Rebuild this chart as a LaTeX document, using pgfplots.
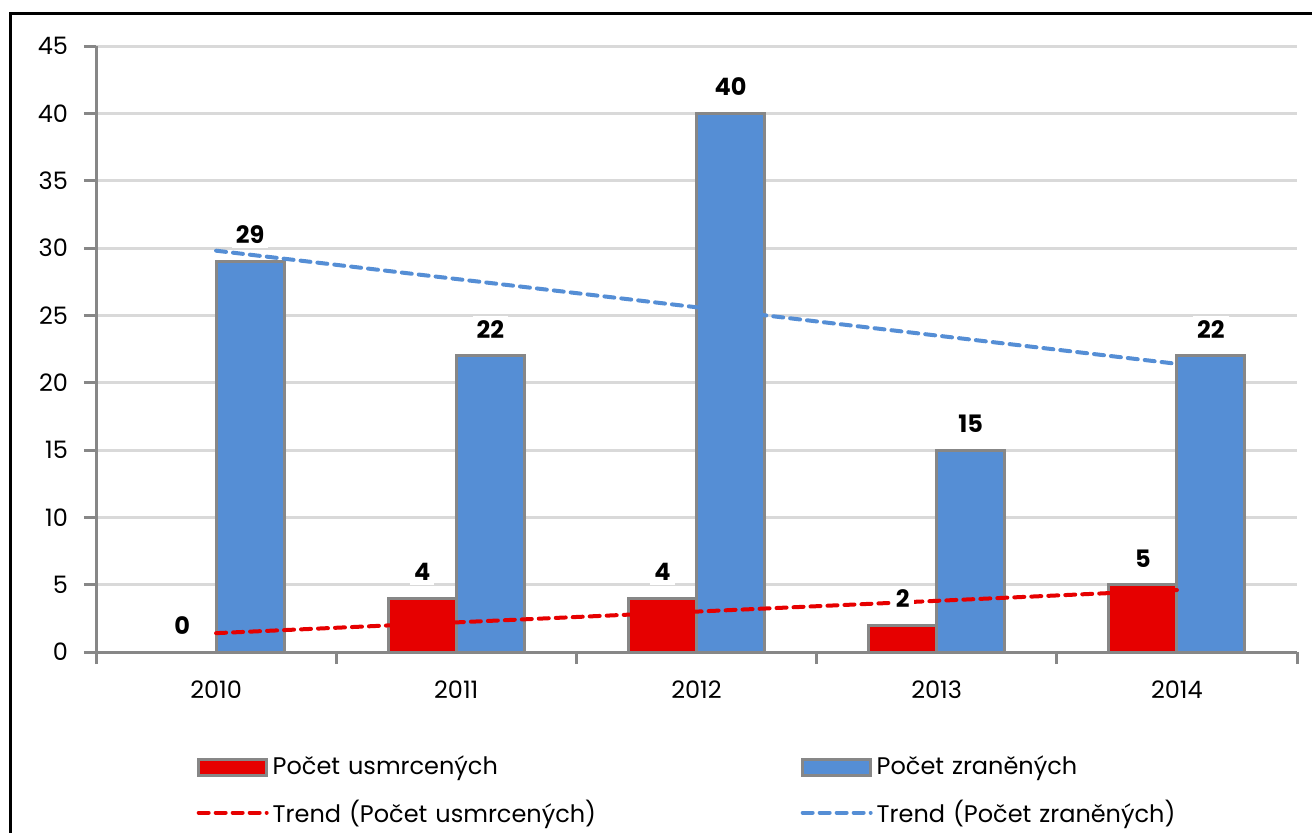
\documentclass[border=0pt]{standalone}
\usepackage{fontspec}
\setmainfont{Poppins}
\usepackage{pgfplots}
\pgfplotsset{compat=1.18}
\definecolor{barred}{HTML}{E60000}
\definecolor{barblue}{HTML}{558ED5}
\definecolor{axisgrey}{HTML}{878787}
\definecolor{gridgrey}{HTML}{D9D9D9}
\tikzset{trendline/.style={line width=2pt, line cap=round, dash pattern=on 5pt off 3.5pt}}
\begin{document}
\begin{tikzpicture}[font=\fontsize{12}{14.4}\selectfont]
\useasboundingbox (0,0) rectangle (656pt,416pt);
\draw[line width=1.5pt] (5pt,-20pt) rectangle (700pt,409pt);
\begin{axis}[
    at={(48pt,90pt)}, anchor=south west,
    scale only axis, width=600.5pt, height=303pt,
    xmin=0.5, xmax=5.5, ymin=0, ymax=45,
    ytick={0,5,...,45},
    xtick={0.5,1.5,...,5.5}, xticklabels={},
    extra x ticks={1,2,3,4,5},
    extra x tick labels={2010,2011,2012,2013,2014},
    extra x tick style={major tick length=0pt, xticklabel style={yshift=-11pt}},
    axis x line*=bottom, axis y line*=left,
    axis line style={axisgrey, line width=1.5pt},
    tick align=outside, major tick length=6pt,
    tick style={axisgrey, line width=1.5pt},
    ymajorgrids, major grid style={gridgrey, line width=1.5pt},
    yticklabel style={xshift=-4.5pt},
    /pgf/number format/assume math mode=true,
    legend columns=2,
    legend cell align=left,
    legend style={draw=none, fill=none, at={(axis description cs:0.0785,-0.158)},
        anchor=north west, row sep=7pt,
        nodes={inner sep=2pt, text width=262pt, align=left}},
]
% Počet usmrcených
\addplot[ybar, bar width=34pt, bar shift=-17pt, fill=barred, draw=axisgrey, line width=1.5pt,
    nodes near coords, nodes near coords style={font=\fontsize{12}{14.4}\selectfont\bfseries, fill=white, inner sep=2pt, yshift=6pt, xshift=-17pt},
    legend image code/.code={\draw[fill=barred, draw=axisgrey, line width=1.5pt] (0pt,-4pt) rectangle (34pt,4pt);}]
    coordinates {(1,0) (2,4) (3,4) (4,2) (5,5)};
\addlegendentry{Počet usmrcených}
% Počet zraněných
\addplot[ybar, bar width=34pt, bar shift=17pt, fill=barblue, draw=axisgrey, line width=1.5pt,
    nodes near coords, nodes near coords style={font=\fontsize{12}{14.4}\selectfont\bfseries, fill=white, inner sep=2pt, yshift=6pt, xshift=17pt},
    legend image code/.code={\draw[fill=barblue, draw=axisgrey, line width=1.5pt] (0pt,-4pt) rectangle (34pt,4pt);}]
    coordinates {(1,29) (2,22) (3,40) (4,15) (5,22)};
\addlegendentry{Počet zraněných}
% trends
\addplot[barred, trendline, mark=none,
    legend image code/.code={\draw[barred, trendline] (0pt,0pt) -- (34pt,0pt);}]
    coordinates {(1,1.4) (2,2.2) (3,3.0) (4,3.8) (5,4.6)};
\addlegendentry{Trend (Počet usmrcených)}
\addplot[barblue, trendline, mark=none,
    legend image code/.code={\draw[barblue, trendline] (0pt,0pt) -- (34pt,0pt);}]
    coordinates {(1,29.8) (2,27.7) (3,25.6) (4,23.5) (5,21.4)};
\addlegendentry{Trend (Počet zraněných)}
\end{axis}
\end{tikzpicture}
\end{document}
